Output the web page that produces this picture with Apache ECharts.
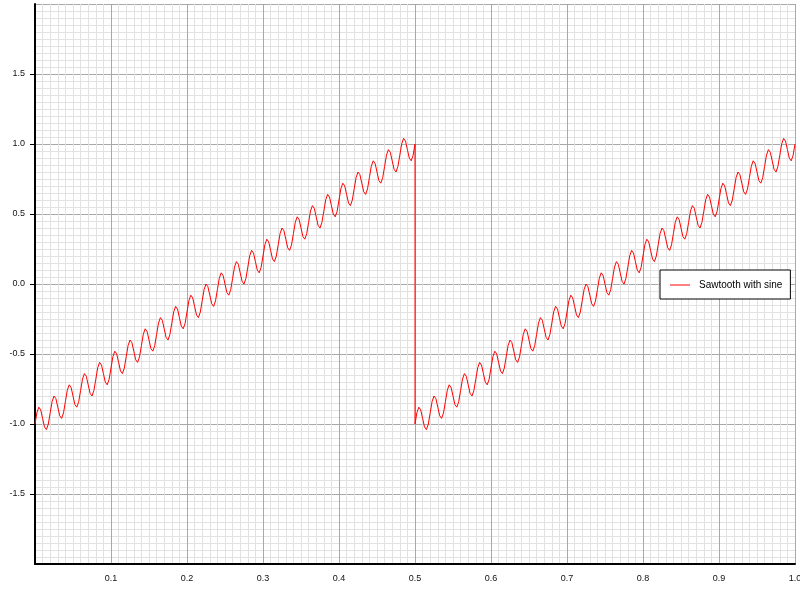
<!DOCTYPE html>
<html>
<head>
<meta charset="utf-8">
<script src="https://cdn.jsdelivr.net/npm/echarts@6/dist/echarts.min.js"></script>
<style>
html,body{margin:0;padding:0;background:#fff;}
#chart{width:800px;height:600px;}
</style>
</head>
<body>
<div id="chart"></div>
<script>
// First tooth (x from 0 to 0.5)
const xFirst = [
0,0.0025,0.005,0.0075,0.01,0.0125,0.015,0.0175,
0.02,0.0225,0.025,0.0275,0.03,0.0325,0.035,0.0375,
0.04,0.0425,0.045,0.0475,0.05,0.0525,0.055,0.0575,
0.06,0.0625,0.065,0.0675,0.07,0.0725,0.075,0.0775,
0.08,0.0825,0.085,0.0875,0.09,0.0925,0.095,0.0975,
0.1,0.1025,0.105,0.1075,0.11,0.1125,0.115,0.1175,
0.12,0.1225,0.125,0.1275,0.13,0.1325,0.135,0.1375,
0.14,0.1425,0.145,0.1475,0.15,0.1525,0.155,0.1575,
0.16,0.1625,0.165,0.1675,0.17,0.1725,0.175,0.1775,
0.18,0.1825,0.185,0.1875,0.19,0.1925,0.195,0.1975,
0.2,0.2025,0.205,0.2075,0.21,0.2125,0.215,0.2175,
0.22,0.2225,0.225,0.2275,0.23,0.2325,0.235,0.2375,
0.24,0.2425,0.245,0.2475,0.25,0.2525,0.255,0.2575,
0.26,0.2625,0.265,0.2675,0.27,0.2725,0.275,0.2775,
0.28,0.2825,0.285,0.2875,0.29,0.2925,0.295,0.2975,
0.3,0.3025,0.305,0.3075,0.31,0.3125,0.315,0.3175,
0.32,0.3225,0.325,0.3275,0.33,0.3325,0.335,0.3375,
0.34,0.3425,0.345,0.3475,0.35,0.3525,0.355,0.3575,
0.36,0.3625,0.365,0.3675,0.37,0.3725,0.375,0.3775,
0.38,0.3825,0.385,0.3875,0.39,0.3925,0.395,0.3975,
0.4,0.4025,0.405,0.4075,0.41,0.4125,0.415,0.4175,
0.42,0.4225,0.425,0.4275,0.43,0.4325,0.435,0.4375,
0.44,0.4425,0.445,0.4475,0.45,0.4525,0.455,0.4575,
0.46,0.4625,0.465,0.4675,0.47,0.4725,0.475,0.4775,
0.48,0.4825,0.485,0.4875,0.49,0.4925,0.495,0.4975,
0.5
];
const yFirst = [
-1,-0.919,-0.88,-0.899,-0.96,-1.021,-1.04,-1.001,
-0.92,-0.839,-0.8,-0.819,-0.88,-0.941,-0.96,-0.921,
-0.84,-0.759,-0.72,-0.739,-0.8,-0.861,-0.88,-0.841,
-0.76,-0.679,-0.64,-0.659,-0.72,-0.781,-0.8,-0.761,
-0.68,-0.599,-0.56,-0.579,-0.64,-0.701,-0.72,-0.681,
-0.6,-0.519,-0.48,-0.499,-0.56,-0.621,-0.64,-0.601,
-0.52,-0.439,-0.4,-0.419,-0.48,-0.541,-0.56,-0.521,
-0.44,-0.359,-0.32,-0.339,-0.4,-0.461,-0.48,-0.441,
-0.36,-0.279,-0.24,-0.259,-0.32,-0.381,-0.4,-0.361,
-0.28,-0.199,-0.16,-0.179,-0.24,-0.301,-0.32,-0.281,
-0.2,-0.119,-0.08,-0.099,-0.16,-0.221,-0.24,-0.201,
-0.12,-0.039,0,-0.019,-0.08,-0.141,-0.16,-0.121,
-0.04,0.041,0.08,0.061,0,-0.061,-0.08,-0.041,
0.04,0.121,0.16,0.141,0.08,0.019,0,0.039,
0.12,0.201,0.24,0.221,0.16,0.099,0.08,0.119,
0.2,0.281,0.32,0.301,0.24,0.179,0.16,0.199,
0.28,0.361,0.4,0.381,0.32,0.259,0.24,0.279,
0.36,0.441,0.48,0.461,0.4,0.339,0.32,0.359,
0.44,0.521,0.56,0.541,0.48,0.419,0.4,0.439,
0.52,0.601,0.64,0.621,0.56,0.499,0.48,0.519,
0.6,0.681,0.72,0.701,0.64,0.579,0.56,0.599,
0.68,0.761,0.8,0.781,0.72,0.659,0.64,0.679,
0.76,0.841,0.88,0.861,0.8,0.739,0.72,0.759,
0.84,0.921,0.96,0.941,0.88,0.819,0.8,0.839,
0.92,1.001,1.04,1.021,0.96,0.899,0.88,0.919,
1
];
// Second tooth (x from 0.5 to 1.0)
const xSecond = [
0.5,0.5025,0.505,0.5075,0.51,0.5125,0.515,0.5175,
0.52,0.5225,0.525,0.5275,0.53,0.5325,0.535,0.5375,
0.54,0.5425,0.545,0.5475,0.55,0.5525,0.555,0.5575,
0.56,0.5625,0.565,0.5675,0.57,0.5725,0.575,0.5775,
0.58,0.5825,0.585,0.5875,0.59,0.5925,0.595,0.5975,
0.6,0.6025,0.605,0.6075,0.61,0.6125,0.615,0.6175,
0.62,0.6225,0.625,0.6275,0.63,0.6325,0.635,0.6375,
0.64,0.6425,0.645,0.6475,0.65,0.6525,0.655,0.6575,
0.66,0.6625,0.665,0.6675,0.67,0.6725,0.675,0.6775,
0.68,0.6825,0.685,0.6875,0.69,0.6925,0.695,0.6975,
0.7,0.7025,0.705,0.7075,0.71,0.7125,0.715,0.7175,
0.72,0.7225,0.725,0.7275,0.73,0.7325,0.735,0.7375,
0.74,0.7425,0.745,0.7475,0.75,0.7525,0.755,0.7575,
0.76,0.7625,0.765,0.7675,0.77,0.7725,0.775,0.7775,
0.78,0.7825,0.785,0.7875,0.79,0.7925,0.795,0.7975,
0.8,0.8025,0.805,0.8075,0.81,0.8125,0.815,0.8175,
0.82,0.8225,0.825,0.8275,0.83,0.8325,0.835,0.8375,
0.84,0.8425,0.845,0.8475,0.85,0.8525,0.855,0.8575,
0.86,0.8625,0.865,0.8675,0.87,0.8725,0.875,0.8775,
0.88,0.8825,0.885,0.8875,0.89,0.8925,0.895,0.8975,
0.9,0.9025,0.905,0.9075,0.91,0.9125,0.915,0.9175,
0.92,0.9225,0.925,0.9275,0.93,0.9325,0.935,0.9375,
0.94,0.9425,0.945,0.9475,0.95,0.9525,0.955,0.9575,
0.96,0.9625,0.965,0.9675,0.97,0.9725,0.975,0.9775,
0.98,0.9825,0.985,0.9875,0.99,0.9925,0.995,0.9975,
1.0
];
const ySecond = [
-1,-0.919,-0.88,-0.899,-0.96,-1.021,-1.04,-1.001,
-0.92,-0.839,-0.8,-0.819,-0.88,-0.941,-0.96,-0.921,
-0.84,-0.759,-0.72,-0.739,-0.8,-0.861,-0.88,-0.841,
-0.76,-0.679,-0.64,-0.659,-0.72,-0.781,-0.8,-0.761,
-0.68,-0.599,-0.56,-0.579,-0.64,-0.701,-0.72,-0.681,
-0.6,-0.519,-0.48,-0.499,-0.56,-0.621,-0.64,-0.601,
-0.52,-0.439,-0.4,-0.419,-0.48,-0.541,-0.56,-0.521,
-0.44,-0.359,-0.32,-0.339,-0.4,-0.461,-0.48,-0.441,
-0.36,-0.279,-0.24,-0.259,-0.32,-0.381,-0.4,-0.361,
-0.28,-0.199,-0.16,-0.179,-0.24,-0.301,-0.32,-0.281,
-0.2,-0.119,-0.08,-0.099,-0.16,-0.221,-0.24,-0.201,
-0.12,-0.039,0,-0.019,-0.08,-0.141,-0.16,-0.121,
-0.04,0.041,0.08,0.061,0,-0.061,-0.08,-0.041,
0.04,0.121,0.16,0.141,0.08,0.019,0,0.039,
0.12,0.201,0.24,0.221,0.16,0.099,0.08,0.119,
0.2,0.281,0.32,0.301,0.24,0.179,0.16,0.199,
0.28,0.361,0.4,0.381,0.32,0.259,0.24,0.279,
0.36,0.441,0.48,0.461,0.4,0.339,0.32,0.359,
0.44,0.521,0.56,0.541,0.48,0.419,0.4,0.439,
0.52,0.601,0.64,0.621,0.56,0.499,0.48,0.519,
0.6,0.681,0.72,0.701,0.64,0.579,0.56,0.599,
0.68,0.761,0.8,0.781,0.72,0.659,0.64,0.679,
0.76,0.841,0.88,0.861,0.8,0.739,0.72,0.759,
0.84,0.921,0.96,0.941,0.88,0.819,0.8,0.839,
0.92,1.001,1.04,1.021,0.96,0.899,0.88,0.919,
1
];
const seriesName = 'Sawtooth with sine';

const data = [];
xFirst.forEach((x, i) => data.push([x, yFirst[i]]));
xSecond.forEach((x, i) => data.push([x, ySecond[i]]));

const FONT = 'Liberation Sans, Arial, sans-serif';
const chart = echarts.init(document.getElementById('chart'), null, {renderer: 'canvas'});
chart.setOption({
  animation: false,
  backgroundColor: '#fff',
  grid: {left: 35, right: 5, top: 4, bottom: 36, containLabel: false, outerBoundsMode: 'none'},
  legend: {
    data: [{name: seriesName, icon: 'rect'}],
    left: 660, top: 270,
    orient: 'vertical',
    padding: [8, 8, 7, 10],
    itemWidth: 20, itemHeight: 1,
    backgroundColor: '#fff',
    borderColor: '#000', borderWidth: 1, borderRadius: 0,
    itemStyle: {color: '#ff0000', borderWidth: 0},
    textStyle: {fontFamily: FONT, fontSize: 10, color: '#000', lineHeight: 14, padding: [0, 0, 0, 4]}
  },
  xAxis: {
    type: 'value', min: 0, max: 1, interval: 0.1,
    axisLine: {show: true, onZero: false, lineStyle: {color: '#000', width: 2}},
    axisTick: {show: false},
    axisLabel: {
      showMinLabel: false, margin: 10,
      fontFamily: FONT, fontSize: 9, color: '#111',
      formatter: v => v.toFixed(1)
    },
    splitLine: {show: true, lineStyle: {color: '#a8a8a8', width: 1}},
    minorTick: {show: false, splitNumber: 10},
    minorSplitLine: {show: true, lineStyle: {color: '#e2e2e2', width: 1}}
  },
  yAxis: {
    type: 'value', min: -2, max: 2, interval: 0.5,
    axisLine: {show: true, onZero: false, lineStyle: {color: '#000', width: 2}},
    axisTick: {show: true, length: 5, lineStyle: {color: '#000', width: 1}},
    axisLabel: {
      showMinLabel: false, showMaxLabel: false, margin: 10,
      fontFamily: FONT, fontSize: 9, color: '#111',
      formatter: v => v.toFixed(1)
    },
    splitLine: {show: true, lineStyle: {color: '#a8a8a8', width: 1}},
    minorTick: {show: false, splitNumber: 10},
    minorSplitLine: {show: true, lineStyle: {color: '#e2e2e2', width: 1}}
  },
  series: [{
    name: seriesName,
    type: 'line',
    data: data,
    symbol: 'none',
    showSymbol: false,
    smooth: false,
    lineStyle: {color: '#ff0000', width: 1},
    itemStyle: {color: '#ff0000'}
  }]
});
</script>
</body>
</html>
